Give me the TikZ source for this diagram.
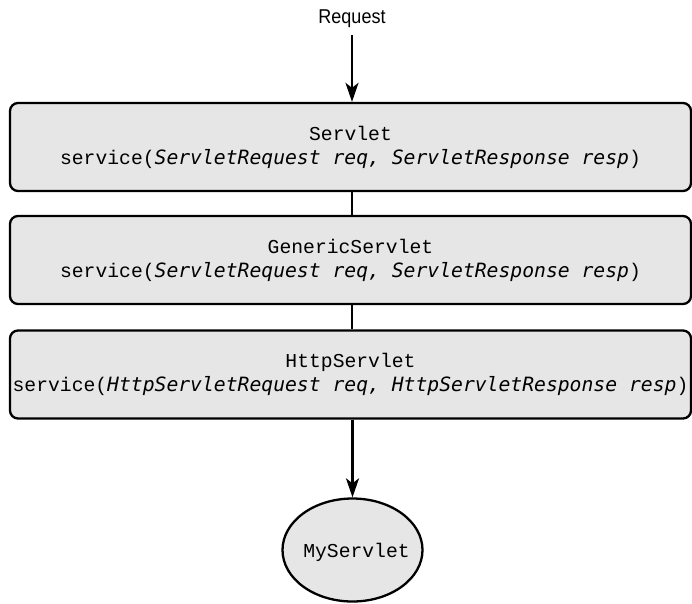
\documentclass[tikz,border=0pt]{standalone}
\usepackage{fontspec}
\setmainfont{Liberation Sans}
\setmonofont{Liberation Mono}
\newfontfamily\itmono{DejaVu Sans Mono Oblique}
\usetikzlibrary{arrows.meta,shapes.geometric}
\definecolor{boxgray}{HTML}{E6E6E6}
\newcommand{\cd}[1]{{\itmono #1}}
\tikzset{
  classbox/.style={draw=black, line width=2.3pt, fill=boxgray, rounded corners=8pt,
    minimum width=681pt, minimum height=88pt, inner sep=0pt, align=center,
    font=\ttfamily\fontsize{19.7}{24}\selectfont},
  conn/.style={line width=2.3pt},
  arr/.style={line width=2.3pt, -{Stealth[length=19pt, width=13pt, inset=5pt]}},
}
\begin{document}
\begin{tikzpicture}[x=1pt, y=-1pt]
\useasboundingbox (0,0) rectangle (692,603);
\node (req) at (352,19) {\scalebox{0.9}[1]{\fontsize{20}{22}\selectfont Request}};
\coordinate (reqend) at (352,35);
\node[classbox] (b1) at (350.5,147) {Servlet\\service(\cd{ServletRequest req, ServletResponse resp})};
\node[classbox] (b2) at (350.5,260) {GenericServlet\\service(\cd{ServletRequest req, ServletResponse resp})};
\node[classbox] (b3) at (350.5,374.5) {HttpServlet\\service(\cd{HttpServletRequest req, HttpServletResponse resp})};
\node[ellipse, draw=black, line width=2.3pt, fill=boxgray, minimum width=140pt, minimum height=103pt,
  inner xsep=-20pt, inner ysep=0pt, text depth=0pt,
  font=\ttfamily\fontsize{19.7}{24}\selectfont] (ms) at (352.5,550) {\hspace{8pt}MyServlet};
\draw[arr] (reqend) -- (reqend |- b1.north);
\draw[conn] (b1.south -| reqend) -- (b2.north -| reqend);
\draw[conn] (b2.south -| reqend) -- (b3.north -| reqend);
\draw[arr] (b3.south -| ms.north) -- (ms.north);
\end{tikzpicture}
\end{document}
